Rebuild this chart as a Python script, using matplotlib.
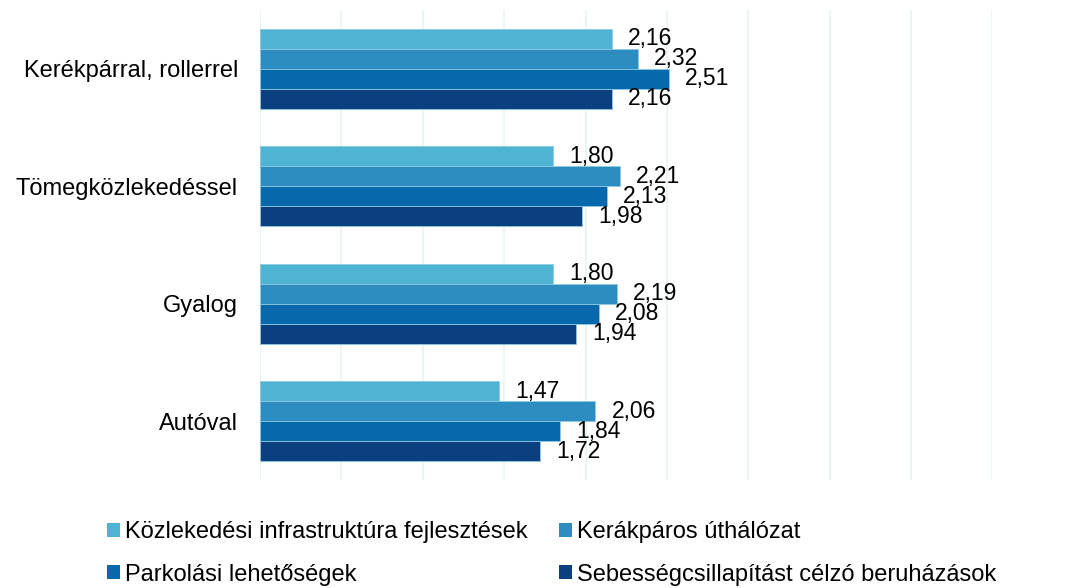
import matplotlib.pyplot as plt
import numpy as np
from matplotlib.patches import Patch

plt.rcParams['font.family'] = ['Liberation Sans', 'DejaVu Sans']

categories = ['Kerékpárral, rollerrel', 'Tömegközlekedéssel', 'Gyalog', 'Autóval']
series_names = ['Közlekedési infrastruktúra fejlesztések', 'Kerákpáros úthálózat',
                'Parkolási lehetőségek', 'Sebességcsillapítást célzó beruházások']
infra = [2.16, 1.80, 1.80, 1.47]
kerekpar_ut = [2.32, 2.21, 2.19, 2.06]
parkolas = [2.51, 2.13, 2.08, 1.84]
sebesseg = [2.16, 1.98, 1.94, 1.72]
colors = ['#4FB3D4', '#2E8DC0', '#0868AC', '#0A3F80']

fig = plt.figure(figsize=(10.66, 5.88), dpi=100)
ax = fig.add_axes([0.244, 0.184, 0.687, 0.799])

y = np.arange(len(categories))
h = 0.17
for i, vals in enumerate([infra, kerekpar_ut, parkolas, sebesseg]):
    pos = y + (i - 1.5) * h
    ax.barh(pos, vals, height=h, color=colors[i], edgecolor='#8CCBE0', linewidth=0.6, zorder=3)
    for p, v in zip(pos, vals):
        ax.text(v + 0.1, p, f'{v:.2f}'.replace('.', ','), va='center', ha='left',
                fontsize=16.5, color='black', zorder=4)

ax.set_xlim(0, 4.5)
ax.set_ylim(3.5, -0.5)
ax.set_xticks(np.arange(0, 4.51, 0.5))
ax.set_xticklabels([])
ax.tick_params(axis='x', length=0)
ax.tick_params(axis='y', length=0, labelsize=17, pad=16)
ax.set_yticks(y)
ax.set_yticklabels(categories)
ax.grid(axis='x', color='#E6F5F2', linewidth=1.2, zorder=0)
for s in ax.spines.values():
    s.set_visible(False)

order = [0, 2, 1, 3]
handles = [Patch(facecolor=colors[i], label=series_names[i]) for i in order]
fig.legend(handles=handles, ncol=2, loc='lower left', bbox_to_anchor=(0.080, -0.032),
           frameon=False, fontsize=17, handlelength=0.55, handleheight=0.55,
           handletextpad=0.22, columnspacing=1.35, labelspacing=0.85)

fig.savefig('out.png', dpi=100)
